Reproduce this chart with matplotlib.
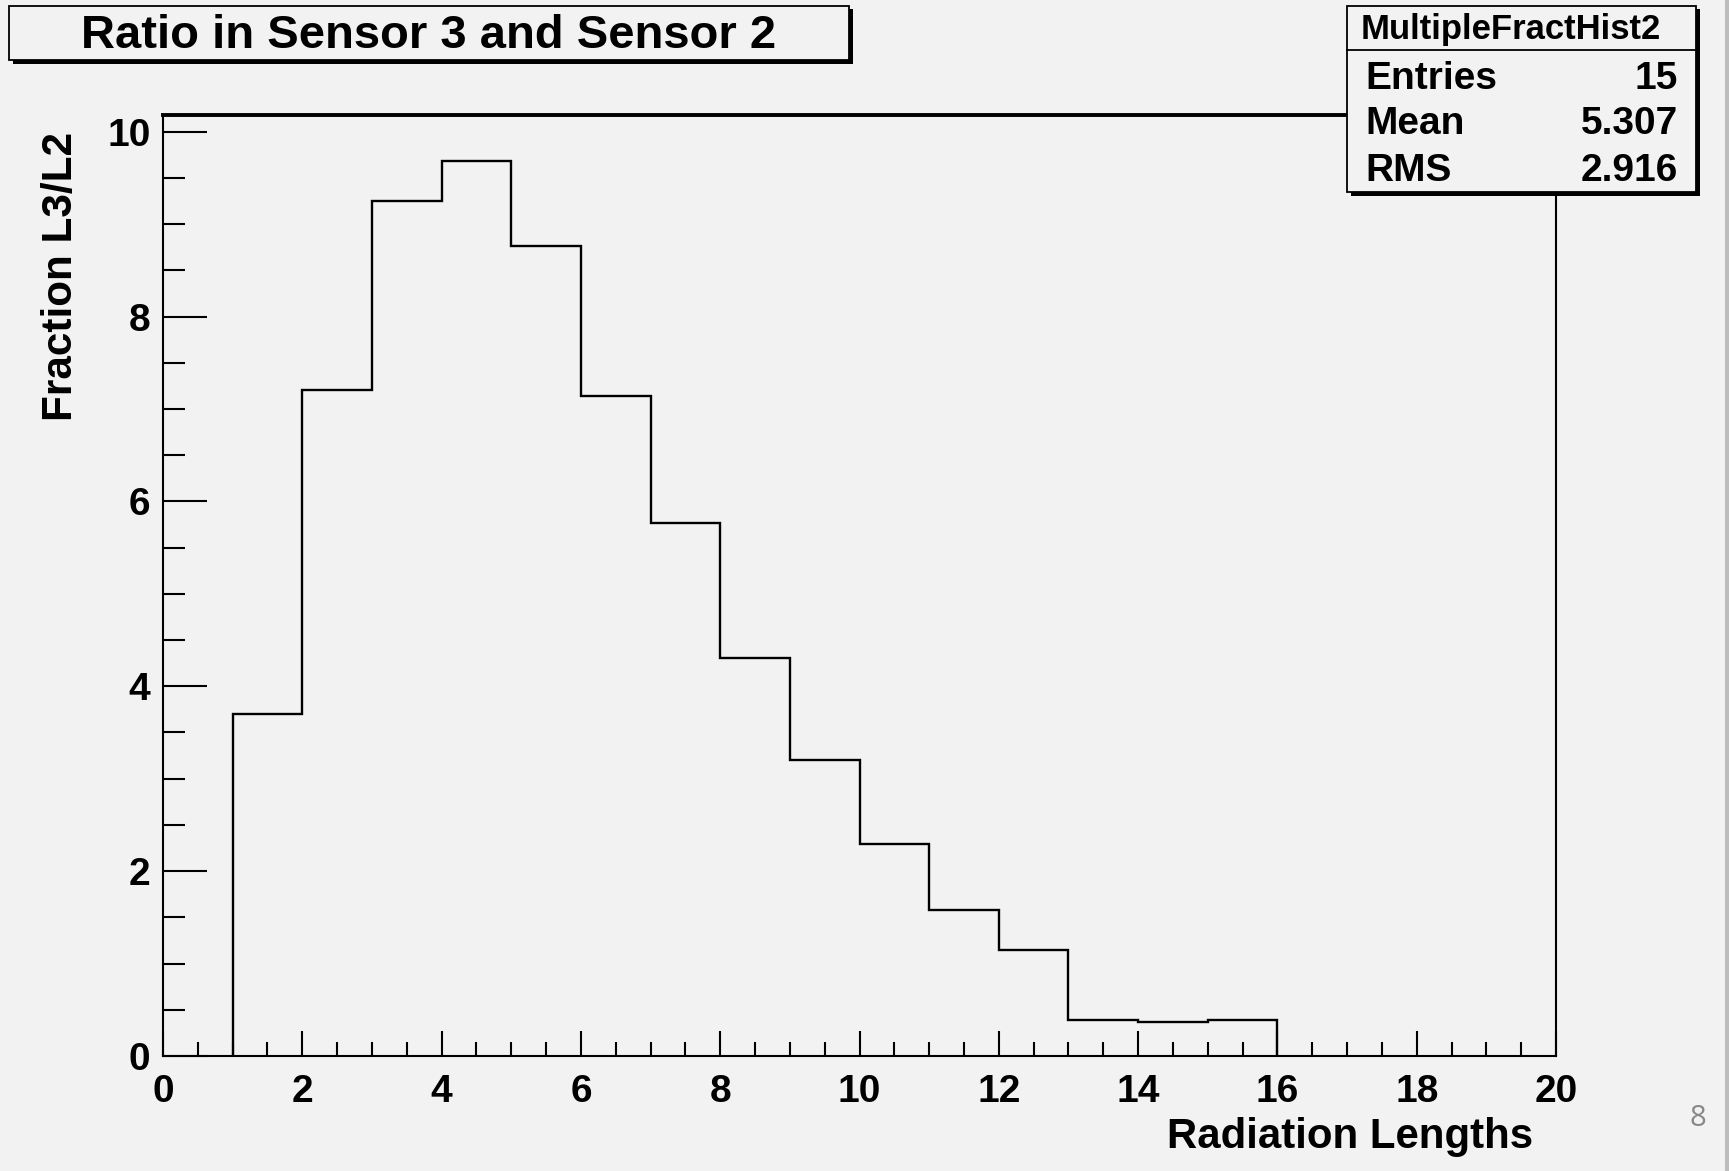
import matplotlib
matplotlib.use("Agg")
import matplotlib.pyplot as plt
from matplotlib.patches import Rectangle
from matplotlib.lines import Line2D
from matplotlib.ticker import MultipleLocator

# ---------------- data ----------------
bin_edges = [1, 2, 3, 4, 5, 6, 7, 8, 9, 10, 11, 12, 13, 14, 15, 16]
bin_values = [3.70, 7.20, 9.25, 9.68, 8.76, 7.14, 5.77, 4.31, 3.20, 2.29,
              1.58, 1.15, 0.39, 0.37, 0.39]
x_range = [0, 20]
y_range = [0, 10.18]
title_text = "Ratio in Sensor 3 and Sensor 2"
x_title = "Radiation Lengths"
y_title = "Fraction L3/L2"
stats_name = "MultipleFractHist2"
stats_labels = ["Entries", "Mean", "RMS"]
stats_values = ["15", "5.307", "2.916"]
page_number = "8"

# ---------------- figure ----------------
W, H = 1729, 1171
BG = "#f2f2f2"
FONT = "Liberation Sans"
fig = plt.figure(figsize=(W / 100, H / 100), dpi=100, facecolor=BG)


def fx(x):
    return x / W


def fy(y):
    return 1 - y / H


ax_l, ax_r, ax_t, ax_b = 163, 1556, 115, 1056
ax = fig.add_axes([fx(ax_l), fy(ax_b), fx(ax_r) - fx(ax_l), fy(ax_t) - fy(ax_b)])
ax.set_facecolor(BG)

ax.stairs(bin_values, bin_edges, baseline=0, color="black", linewidth=1.7,
          zorder=3)

ax.set_xlim(*x_range)
ax.set_ylim(*y_range)
ax.xaxis.set_major_locator(MultipleLocator(2))
ax.xaxis.set_minor_locator(MultipleLocator(0.5))
ax.yaxis.set_major_locator(MultipleLocator(2))
ax.yaxis.set_minor_locator(MultipleLocator(0.5))
ax.tick_params(axis="x", which="major", direction="in", length=18, width=1.5,
               pad=13, labelsize=28)
ax.tick_params(axis="x", which="minor", direction="in", length=10, width=1.5)
ax.tick_params(axis="y", which="major", direction="in", length=32, width=1.5,
               pad=9, labelsize=28)
ax.tick_params(axis="y", which="minor", direction="in", length=16, width=1.5)
for lab in ax.get_xticklabels() + ax.get_yticklabels():
    lab.set_fontfamily(FONT)
    lab.set_fontweight("bold")
for side in ["left", "right", "bottom"]:
    ax.spines[side].set_linewidth(1.5)
ax.spines["top"].set_linewidth(2.8)

renderer = fig.canvas.get_renderer()


def fit(t, target, dim="w"):
    bb = t.get_window_extent(renderer=renderer)
    cur = bb.width if dim == "w" else bb.height
    t.set_fontsize(t.get_fontsize() * target / cur)


# axis titles
xt = fig.text(fx(1533), fy(1137), x_title, ha="right", va="center",
              fontfamily=FONT, fontweight="bold", fontsize=28)
fit(xt, 367)
yt = fig.text(fx(61), fy(132), y_title, ha="center", va="top", rotation=90,
              fontfamily=FONT, fontweight="bold", fontsize=28)
fit(yt, 289, "h")


# boxes with ROOT-style shadow
def shadow_box(l, t, r, b, off=3.5, z=10):
    fig.patches.append(Rectangle((fx(l + off), fy(b + off)), fx(r - l), (b - t) / H,
                                 transform=fig.transFigure, facecolor="black",
                                 edgecolor="black", linewidth=0, zorder=z))
    fig.patches.append(Rectangle((fx(l), fy(b)), fx(r - l), (b - t) / H,
                                 transform=fig.transFigure, facecolor=BG,
                                 edgecolor="black", linewidth=1.3, zorder=z + 0.1))


shadow_box(9, 5.5, 849, 60)
tt = fig.text(fx(429), fy(36), title_text, ha="center", va="center",
              fontfamily=FONT, fontweight="bold", fontsize=34, zorder=12)
fit(tt, 695)

# stats box
sl, st, sr, sb = 1347, 5.5, 1696, 192
shadow_box(sl, st, sr, sb)
fig.lines.append(Line2D([fx(sl), fx(sr)], [fy(50), fy(50)], transform=fig.transFigure,
                        color="black", linewidth=1.3, zorder=12))
ht = fig.text(fx(1511), fy(29), stats_name, ha="center", va="center",
              fontfamily=FONT, fontweight="bold", fontsize=24, zorder=12)
fit(ht, 301)
row_y = [79, 124, 171]
fs = 28
for i, (lab, val) in enumerate(zip(stats_labels, stats_values)):
    t1 = fig.text(fx(1365), fy(row_y[i]), lab, ha="left", va="center",
                  fontfamily=FONT, fontweight="bold", fontsize=28, zorder=12)
    t2 = fig.text(fx(1678), fy(row_y[i]), val, ha="right", va="center",
                  fontfamily=FONT, fontweight="bold", fontsize=28, zorder=12)
    if i == 0:
        fit(t1, 132)
        fs = t1.get_fontsize()
    t1.set_fontsize(fs)
    t2.set_fontsize(fs)

# page number and right edge strip
fig.text(fx(1698), fy(1118), page_number, ha="center", va="center",
         fontfamily="Open Sans", fontsize=21, color="#888888")
fig.patches.append(Rectangle((fx(1725), 0), fx(4), 1, transform=fig.transFigure,
                             facecolor="#bdbdbd", edgecolor="none", zorder=1))

fig.savefig("out.png", dpi=100, facecolor=BG)
